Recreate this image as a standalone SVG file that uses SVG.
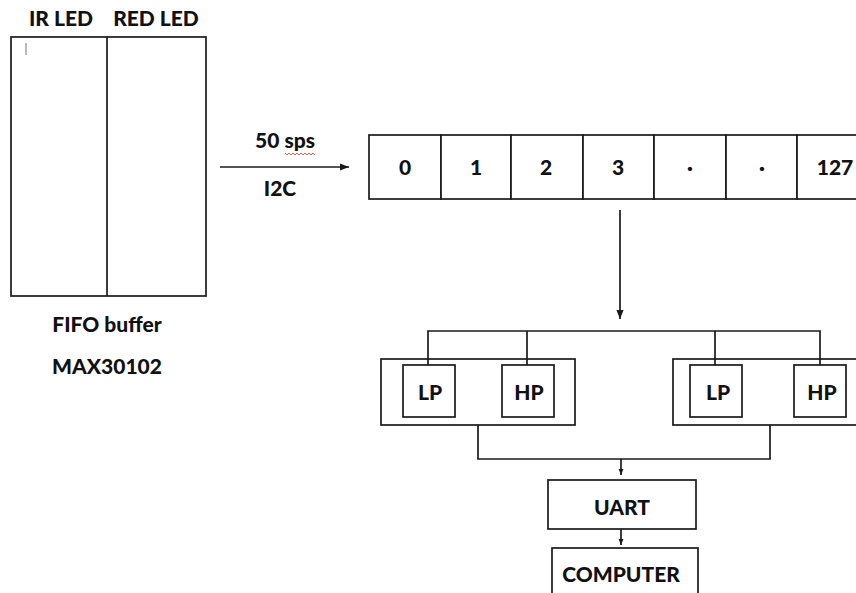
<svg xmlns="http://www.w3.org/2000/svg" width="856" height="593" viewBox="0 0 856 593">
<style>
.b{fill:#fff;stroke:#1a1a1a;stroke-width:1.7}
.l{fill:none;stroke:#1a1a1a;stroke-width:1.7}
.t{font-family:Lato,"Liberation Sans",sans-serif;font-weight:900;font-size:21px;fill:#111;text-anchor:middle}
</style>
<defs>
<marker id="ah" viewBox="0 0 10 10" refX="10" refY="5" markerWidth="6" markerHeight="6" orient="auto" markerUnits="userSpaceOnUse">
<path d="M0,1 L10,5 L0,9 z" fill="#1a1a1a"/>
</marker>
<marker id="ah2" viewBox="0 0 10 10" refX="10" refY="5" markerWidth="9" markerHeight="9" orient="auto" markerUnits="userSpaceOnUse">
<path d="M0,1 L10,5 L0,9 z" fill="#1a1a1a"/>
</marker>
</defs>
<rect width="856" height="593" fill="#fff"/>
<g id="fifo-max30102">
<rect class="b" x="11" y="37" width="195" height="259"/>
<line class="l" x1="107" y1="37" x2="107" y2="296"/>
<line x1="26" y1="43" x2="26" y2="55" stroke="#777" stroke-width="1"/>
<text class="t" x="61" y="26">IR LED</text>
<text class="t" x="156" y="26">RED LED</text>
<text class="t" x="107" y="332">FIFO buffer</text>
<text class="t" x="107" y="374">MAX30102</text>
</g>
<g id="buffer">
<rect class="b" x="369" y="135" width="72" height="64"/>
<rect class="b" x="441" y="135" width="70" height="64"/>
<rect class="b" x="511" y="135" width="72" height="64"/>
<rect class="b" x="583" y="135" width="71" height="64"/>
<rect class="b" x="654" y="135" width="72" height="64"/>
<rect class="b" x="726" y="135" width="71" height="64"/>
<rect class="b" x="797" y="135" width="70" height="64"/>
<text class="t" x="405" y="175">0</text>
<text class="t" x="476" y="175">1</text>
<text class="t" x="546" y="175">2</text>
<text class="t" x="618" y="175">3</text>
<text class="t" x="690" y="175">·</text>
<text class="t" x="762" y="175">·</text>
<text class="t" x="835" y="175">127</text>
</g>
<g id="filter-left">
<rect class="b" x="381" y="359" width="194" height="66"/>
<rect class="b" x="403" y="365" width="52" height="52"/>
<rect class="b" x="502" y="365" width="52" height="52"/>
<text class="t" x="430" y="400">LP</text>
<text class="t" x="529" y="400">HP</text>
</g>
<g id="filter-right">
<rect class="b" x="673" y="359" width="200" height="66"/>
<rect class="b" x="690" y="365" width="52" height="52"/>
<rect class="b" x="794" y="365" width="52" height="52"/>
<text class="t" x="718" y="400">LP</text>
<text class="t" x="822" y="400">HP</text>
</g>
<g id="uart">
<rect class="b" x="548" y="480" width="148" height="49"/>
<text class="t" x="622" y="515">UART</text>
</g>
<g id="computer">
<rect class="b" x="552" y="548" width="146" height="60"/>
<text class="t" x="621" y="582">COMPUTER</text>
</g>
<g id="connectors">
<line class="l" x1="220" y1="167" x2="349" y2="167" marker-end="url(#ah2)"/>
<text class="t" x="285" y="148">50 sps</text>
<text class="t" x="280" y="196">I2C</text>
<path d="M285,153 l2,2 l2,-2 l2,2 l2,-2 l2,2 l2,-2 l2,2 l2,-2 l2,2 l2,-2 l2,2 l2,-2 l2,2 l2,-2 l2,2" fill="none" stroke="#e03030" stroke-width="0.8"/>
<line class="l" x1="620" y1="210" x2="620" y2="319" marker-end="url(#ah2)"/>
<path class="l" d="M428,365 V331 H820 V365 M527,331 V365 M715,331 V365"/>
<path class="l" d="M478,425 V459 H770 V425"/>
<line class="l" x1="621" y1="459" x2="621" y2="475" marker-end="url(#ah)"/>
<line class="l" x1="621" y1="529" x2="621" y2="545" marker-end="url(#ah)"/>
</g>
</svg>
